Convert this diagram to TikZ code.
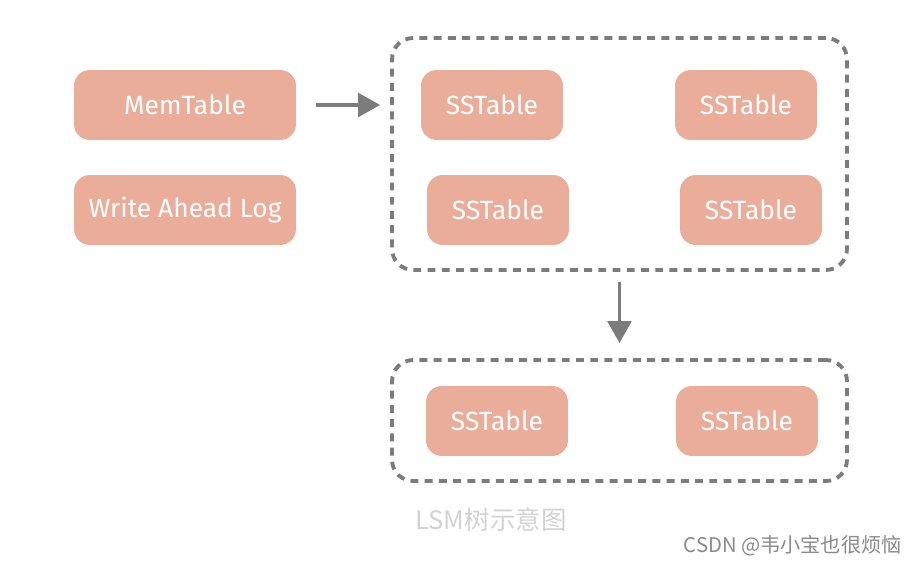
\documentclass[tikz,border=0pt]{standalone}
\usepackage{fontspec}
\setmainfont{Fira Sans}
\newfontfamily\cjk{Noto Sans CJK SC}
\usetikzlibrary{arrows.meta}
\usepackage{xcolor}
\definecolor{boxfill}{HTML}{EAAD9A}
\definecolor{dashgray}{HTML}{7C7C7C}
\definecolor{capgray}{HTML}{D2D2D2}
\definecolor{markgray}{HTML}{8A8A8A}

\begin{document}
\begin{tikzpicture}[x=0.02cm, y=-0.02cm,
    table/.style={fill=boxfill, rounded corners=9pt, minimum height=1.4cm, text=white, font=\fontsize{15}{17}\selectfont},
    wide/.style={table, minimum width=4.44cm},
    narrow/.style={table, minimum width=2.84cm},
    group/.style={draw=dashgray, line width=2.2pt, dash pattern=on 4.5pt off 3.6pt, rounded corners=12pt},
    arrow/.style={draw=dashgray, line width=2pt, -{Triangle[length=12.5pt, width=13.5pt]}}]
	\useasboundingbox (0,0) rectangle (921,563);
	\node[wide] (mem) at (185, 105) {MemTable};
	\node[wide] (wal) at (185, 210) {Write Ahead Log};
	\node[group, minimum width=9.1cm, minimum height=4.64cm] (upper) at (619.5, 154) {};
	\node[group, minimum width=9.1cm, minimum height=2.42cm] (lower) at (619.5, 420.5) {};
	\node[narrow] (sa) at (492, 105) {SSTable};
	\node[narrow] (sb) at (746, 105) {SSTable};
	\node[narrow] (sc) at (498, 210) {SSTable};
	\node[narrow] (sd) at (751, 210) {SSTable};
	\node[narrow] (se) at (497, 421) {SSTable};
	\node[narrow] (sf) at (747, 421) {SSTable};
	\draw[arrow, shorten <=0.4cm, shorten >=0.2cm] (mem.east) -- (mem.east -| upper.west);
	\draw[arrow, shorten <=0.2cm, shorten >=0.3cm] (upper.south) -- (lower.north);
	\node[text=capgray, font=\cjk\fontsize{14.5}{16}\selectfont] (caption) at (491, 520) {LSM树示意图};
	\node[text=markgray, font=\cjk\fontsize{11.5}{13}\selectfont, anchor=east] (mark) at (908, 546) {CSDN @韦小宝也很烦恼};
\end{tikzpicture}
\end{document}
